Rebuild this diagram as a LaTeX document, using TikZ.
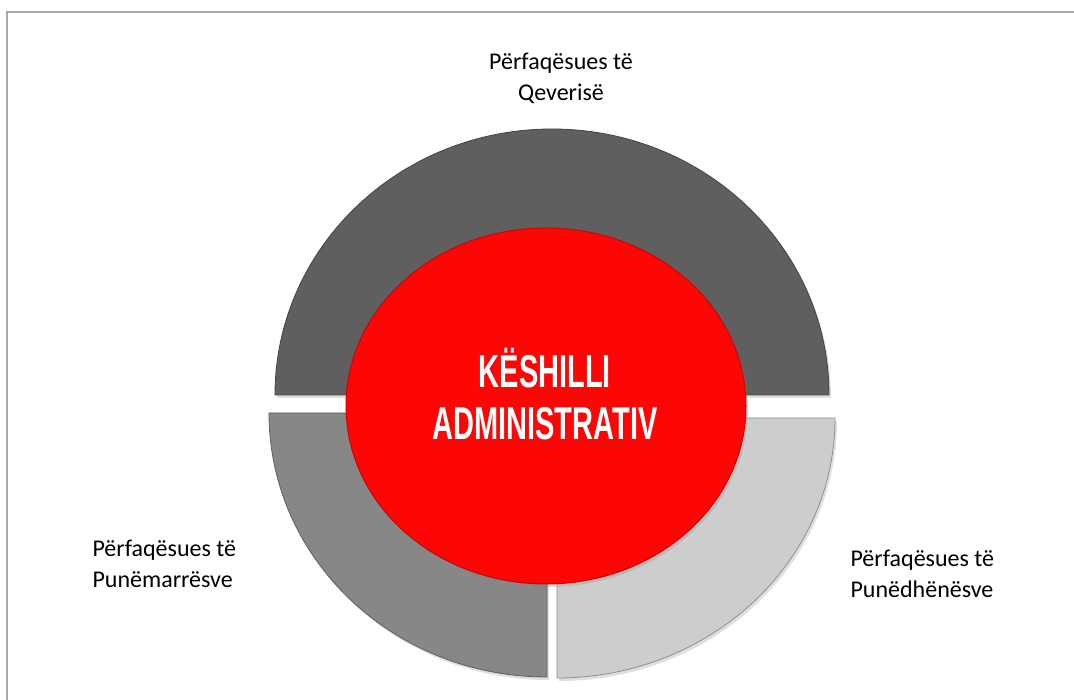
\documentclass[tikz,border=0pt]{standalone}
\usepackage{fontspec}
\setmainfont{Carlito}
\newfontfamily\headfont[FakeStretch=0.63]{Liberation Sans}
\usetikzlibrary{shadows}

\definecolor{govgray}{HTML}{5F5F5F}
\definecolor{wrkgray}{HTML}{878787}
\definecolor{empgray}{HTML}{CDCDCD}
\definecolor{councilred}{HTML}{FC0606}
\definecolor{framegray}{HTML}{A8A8A8}

\tikzset{
	band/.style={fill=#1, draw=#1!70!black, line width=0.8pt,
		drop shadow={shadow xshift=2pt, shadow yshift=-3pt, opacity=0.25}},
	lbl/.style={font=\fontsize{24}{31}\selectfont, align=left},
}

\begin{document}
\begin{tikzpicture}[x=1pt, y=1pt]
		\useasboundingbox (0,0) rectangle (1074,700);
		\fill[white] (0,0) rectangle (1074,700);
		\draw[framegray, line width=2pt] (7,-10) -- (7,688) -- (1090,688);

		% the three bands
		\draw[band=govgray] (275,305) arc[start angle=180, end angle=0, x radius=277, y radius=266]
			-- (727,305) arc[start angle=0, end angle=180, x radius=175, y radius=165] -- cycle;
		\draw[band=wrkgray] (269,287) arc[start angle=180, end angle=270, x radius=278, y radius=264]
			-- (547,127) arc[start angle=270, end angle=180, x radius=170, y radius=160] -- cycle;
		\draw[band=empgray] (557,22) arc[start angle=270, end angle=360, x radius=278, y radius=260]
			-- (727,282) arc[start angle=0, end angle=-90, x radius=170, y radius=160] -- cycle;

		% centre
		\draw[fill=councilred, draw=councilred!80!black, line width=1pt,
			drop shadow={shadow xshift=2pt, shadow yshift=-3pt, opacity=0.25}]
			(546,294) ellipse[x radius=200, y radius=178];
		\node[font=\headfont\bfseries\fontsize{46}{52}\selectfont, text=white, align=center] (council) at (545,306)
			{KËSHILLI\\ADMINISTRATIV};

		\node[lbl, align=center] (gov) at (561,622) {Përfaqësues të\\Qeverisë};
		\node[lbl, anchor=west] (wrk) at (89,136) {Përfaqësues të\\Punëmarrësve};
		\node[lbl, anchor=west] (emp) at (847,126) {Përfaqësues të\\Punëdhënësve};
	\end{tikzpicture}
\end{document}
